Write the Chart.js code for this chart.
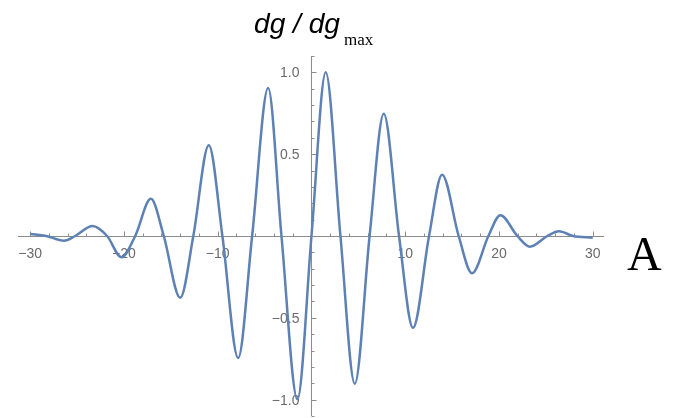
<!DOCTYPE html>
<html>
<head>
<meta charset="utf-8">
<script src="https://cdn.jsdelivr.net/npm/chart.js@4/dist/chart.umd.min.js"></script>
<style>
  body { margin: 0; background: #fff; }
  canvas { display: block; }
</style>
</head>
<body>
<canvas id="wave-chart" width="673" height="418"></canvas>
<script>
// curve: extrema and zero crossings
var waveX = [-30, -28.3, -26.4, -25.2, -23.35, -21.8, -20.26, -18.8, -17.13, -15.75, -14.0, -12.6,
             -10.95, -9.5, -7.82, -6.33, -4.62, -3.2, -1.5, 0, 1.52, 3.09, 4.62, 6.2, 7.71, 9.34,
             10.83, 12.54, 13.93, 15.7, 17.12, 18.87, 20.15, 21.96, 23.3, 25.16, 26.4, 27.9, 30];
var waveY = [0.012, 0, -0.029, 0, 0.061, 0, -0.13, 0, 0.227, 0, -0.378, 0,
             0.555, 0, -0.745, 0, 0.904, 0, -0.998, 0, 1.0, 0, -0.903, 0, 0.747, 0,
             -0.561, 0, 0.375, 0, -0.228, 0, 0.127, 0, -0.065, 0, 0.029, 0, -0.01];

var xTickLabels = [-30, -20, -10, 10, 20, 30];
var yTickLabels = [-1.0, -0.5, 0.5, 1.0];

var axisColor = "#8c8c8c";
var labelColor = "#6a6a6a";

function fmt(v, digits) {
    return v.toFixed(digits).replace("-", "\u2212");
}

var axesPlugin = {
    id: "mmaAxes",
    beforeDatasetsDraw(chart) {
        const ctx = chart.ctx;
        const xs = chart.scales.x, ys = chart.scales.y;
        const area = chart.chartArea;
        const x0 = Math.round(xs.getPixelForValue(0)) + 0.5;
        const y0 = Math.round(ys.getPixelForValue(0)) + 0.5;

        ctx.save();
        ctx.strokeStyle = axisColor;
        ctx.lineWidth = 1;
        ctx.beginPath();
        ctx.moveTo(area.left, y0);
        ctx.lineTo(area.right, y0);
        ctx.moveTo(x0, area.top);
        ctx.lineTo(x0, area.bottom);

        // x ticks every 2, pointing up
        for (let v = -30; v <= 30; v += 2) {
            if (v === 0) continue;
            const px = Math.round(xs.getPixelForValue(v)) + 0.5;
            const len = (v % 10 === 0) ? 5 : 3;
            ctx.moveTo(px, y0);
            ctx.lineTo(px, y0 - len);
        }
        // y ticks every 0.1, pointing right
        for (let i = -11; i <= 11; i++) {
            if (i === 0) continue;
            const py = Math.round(ys.getPixelForValue(i / 10)) + 0.5;
            const len = (i % 5 === 0) ? 5 : 3;
            ctx.moveTo(x0, py);
            ctx.lineTo(x0 + len, py);
        }
        ctx.stroke();

        ctx.fillStyle = labelColor;
        ctx.font = "14px 'Liberation Sans', Arial, sans-serif";
        ctx.textAlign = "center";
        ctx.textBaseline = "alphabetic";
        xTickLabels.forEach(function (v) {
            ctx.fillText(fmt(v, 0), xs.getPixelForValue(v), y0 + 21);
        });
        ctx.textAlign = "right";
        yTickLabels.forEach(function (v) {
            ctx.fillText(fmt(v, 1), x0 - 12, ys.getPixelForValue(v) + 5);
        });
        ctx.restore();
    },
    afterDraw(chart) {
        const ctx = chart.ctx;
        ctx.save();
        ctx.fillStyle = "#000";
        ctx.textBaseline = "alphabetic";
        ctx.textAlign = "left";

        // axis label at the top: dg / dg_max
        ctx.font = "italic 28px 'Liberation Sans', Arial, sans-serif";
        const main = "dg / dg";
        const w = ctx.measureText(main).width;
        ctx.save();
        ctx.translate(254, 33);
        ctx.scale(86 / w, 1);
        ctx.fillText(main, 0, 0);
        ctx.restore();
        ctx.font = "17px 'Liberation Serif', 'Times New Roman', serif";
        ctx.fillText("max", 344, 45);

        // axis label on the right
        ctx.font = "48px 'Liberation Serif', 'Times New Roman', serif";
        ctx.fillText("A", 627, 270);
        ctx.restore();
    }
};

const ctx = document.getElementById("wave-chart");
new Chart(ctx, {
    type: "line",
    data: {
        datasets: [{
            data: waveX.map(function (x, i) { return { x: x, y: waveY[i] }; }),
            borderColor: "#5E81B5",
            borderWidth: 2.5,
            pointRadius: 0,
            fill: false,
            cubicInterpolationMode: "monotone"
        }]
    },
    options: {
        responsive: false,
        animation: false,
        layout: { padding: { left: 18, right: 69, top: 56, bottom: 2 } },
        plugins: { legend: { display: false }, tooltip: { enabled: false } },
        scales: {
            x: { type: "linear", min: -31.3, max: 31.2, display: false },
            y: { type: "linear", min: -1.1, max: 1.1, display: false }
        }
    },
    plugins: [axesPlugin]
});
</script>
</body>
</html>
